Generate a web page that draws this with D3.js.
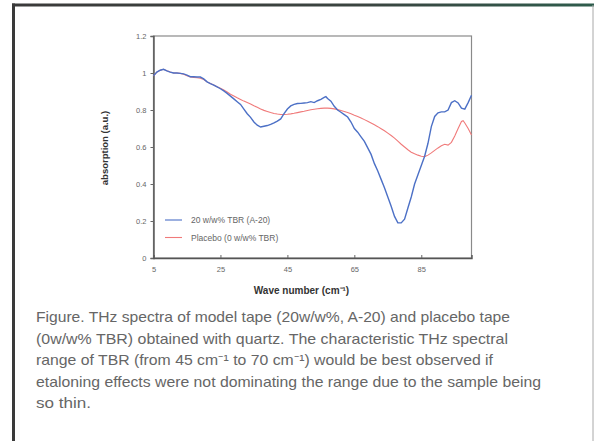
<!DOCTYPE html>
<html>
<head>
<meta charset="utf-8">
<script src="https://cdn.jsdelivr.net/npm/d3@7"></script>
<style>
  html, body { margin: 0; padding: 0; background: #fff; }
  svg { display: block; }
</style>
</head>
<body>
<svg id="fig" width="594" height="441"></svg>
<script>
// Wavenumber sampling (cm^-1) and absorption (a.u.) for each tape
const waveA20 = [5,6,7,8,9,10,11,12,13,14,15,16,17,18,19,20,21,22,23,24,25,26,27,28,29,30,31,32,33,34,35,36,37,38,39,40,41,42,43,44,45,46,47,48,49,50,51,52,53,54,55,56,56.5,57,58,59,60,61,62,63,64,65,66,67,68,69,70,71,72,73,74,75,76,77,78,79,80,81,82,83,84,85,86,87,88,89,90,91,92,93,94,95,96,97,98,99,100];
const absA20 = [0.985,1.005,1.015,1.02,1.012,1.005,1.0,1.0,0.998,0.995,0.988,0.98,0.98,0.978,0.978,0.968,0.952,0.943,0.935,0.925,0.915,0.903,0.89,0.875,0.86,0.845,0.83,0.805,0.78,0.76,0.735,0.718,0.708,0.712,0.716,0.722,0.73,0.74,0.752,0.78,0.805,0.822,0.83,0.835,0.836,0.838,0.84,0.845,0.84,0.85,0.858,0.868,0.872,0.862,0.848,0.82,0.8,0.788,0.775,0.762,0.735,0.7,0.68,0.655,0.63,0.595,0.56,0.51,0.47,0.425,0.38,0.33,0.28,0.225,0.19,0.19,0.21,0.27,0.33,0.4,0.45,0.5,0.55,0.62,0.71,0.765,0.785,0.79,0.79,0.8,0.84,0.85,0.838,0.81,0.805,0.84,0.88];

const wavePlacebo = [5,6,7,8,9,10,11,12,13,14,15,16,17,18,19,20,21,22,23,24,25,26,27,28,29,30,31,32,33,34,35,36,37,38,39,40,41,42,43,44,45,46,47,48,49,50,51,52,53,54,55,56,57,58,59,60,61,62,63,64,65,66,67,68,69,70,71,72,73,74,75,76,77,78,79,80,81,82,83,84,85,86,87,88,89,90,91,92,93,94,95,96,97,97.5,98,99,100];
const absPlacebo = [0.985,1.005,1.015,1.02,1.012,1.005,1.0,1.0,0.998,0.993,0.985,0.978,0.976,0.974,0.972,0.965,0.952,0.943,0.935,0.926,0.918,0.908,0.897,0.885,0.876,0.866,0.857,0.848,0.84,0.832,0.823,0.815,0.806,0.798,0.792,0.786,0.781,0.778,0.776,0.776,0.777,0.779,0.782,0.786,0.79,0.793,0.797,0.801,0.804,0.807,0.809,0.81,0.81,0.809,0.806,0.802,0.797,0.792,0.787,0.78,0.772,0.765,0.757,0.748,0.739,0.73,0.72,0.71,0.699,0.688,0.675,0.662,0.648,0.632,0.615,0.6,0.585,0.572,0.563,0.556,0.55,0.548,0.556,0.568,0.582,0.595,0.607,0.615,0.61,0.625,0.66,0.7,0.738,0.742,0.73,0.7,0.665];

const xTicks = [5, 25, 45, 65, 85];
const yTicks = [0, 0.2, 0.4, 0.6, 0.8, 1, 1.2];
const seriesNames = ["20 w/w% TBR (A-20)", "Placebo (0 w/w% TBR)"];
const captionLines = [
  "Figure. THz spectra of model tape (20w/w%, A-20) and placebo tape",
  "(0w/w% TBR) obtained with quartz. The characteristic THz spectral",
  "range of TBR (from 45 cm\u207B\u00B9 to 70 cm\u207B\u00B9) would be best observed if",
  "etaloning effects were not dominating the range due to the sample being",
  "so thin."
];
// set width of each caption line
const captionWidths = [474, 472, 457, 505, 55];

const svg = d3.select("#fig");
const W = 594, H = 441;

// page frame
const defs = svg.append("defs");
const grad = defs.append("linearGradient").attr("id", "topEdge")
  .attr("x1", "0").attr("x2", "1").attr("y1", "0").attr("y2", "0");
grad.append("stop").attr("offset", "0").attr("stop-color", "#3a3a3a");
grad.append("stop").attr("offset", "0.6").attr("stop-color", "#3a4440");
grad.append("stop").attr("offset", "1").attr("stop-color", "#2e5c4c");

svg.append("rect").attr("x", 0).attr("y", 0).attr("width", W).attr("height", H).attr("fill", "#fff");
svg.append("rect").attr("x", 12).attr("y", 3.5).attr("width", W - 12).attr("height", 3).attr("fill", "url(#topEdge)");
svg.append("rect").attr("x", 12).attr("y", 3.5).attr("width", 3).attr("height", H).attr("fill", "#3a3a3a");
svg.append("line").attr("x1", 593).attr("x2", 593).attr("y1", 5).attr("y2", H)
  .attr("stroke", "#a8a8a8").attr("stroke-width", 1);

// plot area
const plot = { left: 153.5, right: 471.5, top: 36, bottom: 258 };
const x = d3.scaleLinear().domain([5, 100]).range([plot.left, plot.right]);
const y = d3.scaleLinear().domain([0, 1.2]).range([plot.bottom, plot.top]);

const tickFont = "'Liberation Sans', Arial, sans-serif";

// frame of plot area
svg.append("rect")
  .attr("x", plot.left).attr("y", plot.top)
  .attr("width", plot.right - plot.left).attr("height", plot.bottom - plot.top)
  .attr("fill", "none").attr("stroke", "#8a8a8a").attr("stroke-width", 1.2);

const yAxis = svg.append("g")
  .attr("transform", `translate(${plot.left},0)`)
  .call(d3.axisLeft(y).tickValues(yTicks).tickSize(3).tickPadding(4)
    .tickFormat(d => d3.format("")(+d.toFixed(1))));
const xAxis = svg.append("g")
  .attr("transform", `translate(0,${plot.bottom})`)
  .call(d3.axisBottom(x).tickValues(xTicks).tickSize(-3).tickPadding(9).tickFormat(d3.format("d")));

[yAxis, xAxis].forEach(g => {
  g.select(".domain").attr("stroke", "#555").attr("stroke-width", 1.4);
  g.selectAll(".tick line").attr("stroke", "#666");
  g.selectAll(".tick text").attr("fill", "#666").attr("font-size", 7.5).attr("font-family", tickFont);
});

// spectra
const line = d3.line().x(d => x(d[0])).y(d => y(d[1]));
const placebo = wavePlacebo.map((w, i) => [w, absPlacebo[i]]);
const a20 = waveA20.map((w, i) => [w, absA20[i]]);

svg.append("path").datum(placebo).attr("d", line)
  .attr("fill", "none").attr("stroke", "#f07a7a").attr("stroke-width", 1.1);
svg.append("path").datum(a20).attr("d", line)
  .attr("fill", "none").attr("stroke", "#4c70c6").attr("stroke-width", 1.4);

// legend
const legendColors = ["#4c70c6", "#f07a7a"];
const legend = svg.append("g").attr("transform", "translate(165,220)");
seriesNames.forEach((name, i) => {
  const g = legend.append("g").attr("transform", `translate(0,${i * 17.5})`);
  g.append("line").attr("x1", 0).attr("x2", 17).attr("y1", 0).attr("y2", 0)
    .attr("stroke", legendColors[i]).attr("stroke-width", 1.1);
  g.append("text").attr("x", 26).attr("y", 3).text(name)
    .attr("font-family", tickFont).attr("font-size", 8.5).attr("fill", "#666");
});

// axis titles
svg.append("text")
  .attr("x", (plot.left + plot.right) / 2 - 11).attr("y", 294)
  .attr("text-anchor", "middle").attr("font-family", tickFont)
  .attr("font-size", 10).attr("font-weight", "bold").attr("fill", "#333")
  .text("Wave number (cm\u207B\u00B9)");
svg.append("text")
  .attr("transform", "translate(108,148) rotate(-90)")
  .attr("text-anchor", "middle").attr("font-family", tickFont)
  .attr("font-size", 9.5).attr("font-weight", "bold").attr("fill", "#333")
  .text("absorption (a.u.)");

// caption
const cap = svg.append("text").attr("font-family", tickFont)
  .attr("font-size", 14.5).attr("fill", "#666");
captionLines.forEach((t, i) => {
  cap.append("tspan").attr("x", 36).attr("y", 322 + i * 21.5)
    .attr("textLength", captionWidths[i]).attr("lengthAdjust", "spacingAndGlyphs")
    .text(t);
});
</script>
</body>
</html>
